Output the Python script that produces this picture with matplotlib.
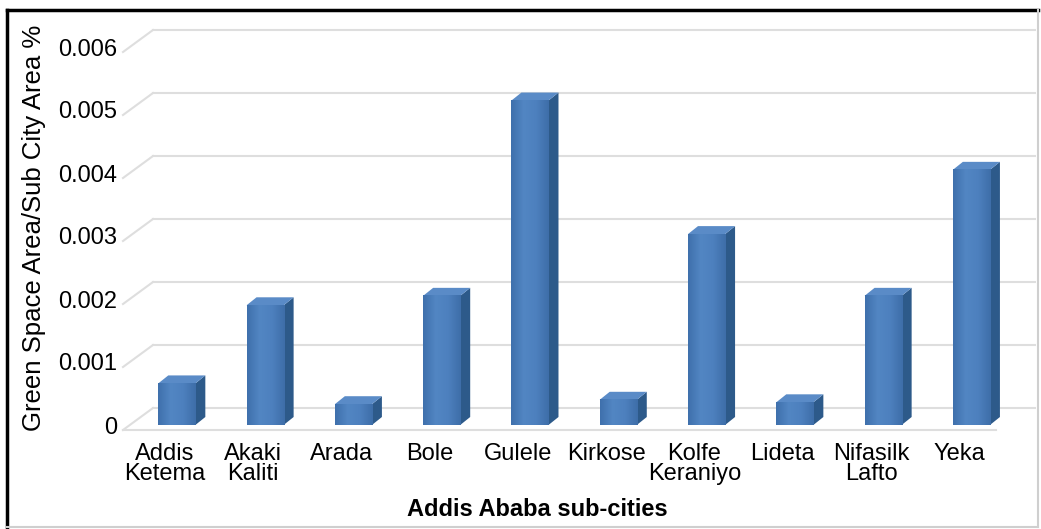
import numpy as np
import matplotlib.pyplot as plt
from matplotlib.patches import Polygon
from matplotlib.lines import Line2D
from matplotlib.colors import LinearSegmentedColormap

plt.rcParams['font.family'] = ['Liberation Sans', 'DejaVu Sans']

# Chart data
sub_cities = ["Addis\nKetema", "Akaki\nKaliti", "Arada", "Bole", "Gulele",
              "Kirkose", "Kolfe\nKeraniyo", "Lideta", "Nifasilk\nLafto", "Yeka"]
green_ratio = [0.00066, 0.0019, 0.00033, 0.00205, 0.00515,
               0.0004, 0.00303, 0.00036, 0.00205, 0.00405]
y_ticks = [0, 0.001, 0.002, 0.003, 0.004, 0.005, 0.006]
y_tick_labels = ["0", "0.001", "0.002", "0.003", "0.004", "0.005", "0.006"]

# Figure / axes layout (pixels)
W, H = 1041, 529
fig = plt.figure(figsize=(W / 100, H / 100), dpi=100)
ax_l, ax_r, ax_b, ax_t = 130, 1012, 425, 47
ax = fig.add_axes([ax_l / W, 1 - ax_b / H, (ax_r - ax_l) / W, (ax_b - ax_t) / H])
xmin, xmax, ymax = -0.53, 9.46, 0.006
ax.set_xlim(xmin, xmax)
ax.set_ylim(0, ymax)
ppx = (ax_r - ax_l) / (xmax - xmin)
ppy = (ax_b - ax_t) / ymax

# pseudo-3D offsets, in pixels converted to data units
back_dx, back_dy = 23 / ppx, 17 / ppy
front_dx, front_dy = -7 / ppx, -5 / ppy
bar_dx, bar_dy = 10 / ppx, 8 / ppy
bar_w = 0.42

grid_c = '#dedede'
front_c, side_c, top_c = '#4a7cb9', '#2d5a8a', '#5a8bc7'
face_grad = LinearSegmentedColormap.from_list(
    'face', ['#3f70ac', '#5286c3', '#4d80be', '#3e6ea9'])

# back wall gridlines + left wall slants
for yv in y_ticks:
    ax.add_line(Line2D([xmin + back_dx, xmax + back_dx], [yv + back_dy, yv + back_dy],
                       color=grid_c, lw=1.5, clip_on=False, zorder=1))
    ax.add_line(Line2D([xmin + front_dx, xmin + back_dx], [yv + front_dy, yv + back_dy],
                       color=grid_c, lw=1.5, clip_on=False, zorder=1))
# floor front edge
ax.add_line(Line2D([xmin + front_dx, xmax + front_dx - 0.1], [front_dy, front_dy],
                   color=grid_c, lw=1.5, clip_on=False, zorder=1))

# bars: front face + side + top
x = np.arange(len(sub_cities))
ax.bar(x, green_ratio, width=bar_w, color=front_c, zorder=3)
grad = np.linspace(0, 1, 64).reshape(1, -1)
for xi, h in zip(x, green_ratio):
    x0, x1 = xi - bar_w / 2, xi + bar_w / 2
    ax.imshow(grad, cmap=face_grad, extent=(x0, x1, 0, h), aspect='auto',
              interpolation='bilinear', zorder=3.5)
    side = [(x1, 0), (x1, h), (x1 + bar_dx, h + bar_dy), (x1 + bar_dx, bar_dy)]
    top = [(x0, h), (x1, h), (x1 + bar_dx, h + bar_dy), (x0 + bar_dx, h + bar_dy)]
    ax.add_patch(Polygon(side, closed=True, facecolor=side_c, edgecolor='none', zorder=3))
    ax.add_patch(Polygon(top, closed=True, facecolor=top_c, edgecolor='none', zorder=3))
ax.set_xlim(xmin, xmax)
ax.set_ylim(0, ymax)

# ticks
ax.set_yticks(y_ticks, y_tick_labels, fontsize=17)
ax.set_xticks(x - 12 / ppx, sub_cities, fontsize=17)
plt.setp(ax.get_xticklabels(), linespacing=0.9)
ax.tick_params(axis='y', length=0, pad=9)
ax.tick_params(axis='x', length=0, pad=13)
for s in ax.spines.values():
    s.set_visible(False)
ax.set_facecolor('none')

fig.text(537 / W, 1 - 510 / H, "Addis Ababa sub-cities", fontsize=17,
         fontweight='bold', ha='center', va='center')
fig.text(34 / W, 1 - 228 / H, "Green Space Area/Sub City Area %", fontsize=18.5,
         rotation=90, ha='center', va='center')

# outer frame
fig.add_artist(Line2D([7 / W, 7 / W], [1 - 527 / H, 1 - 10 / H], color='black', lw=2.5))
fig.add_artist(Line2D([7 / W, 1038 / W], [1 - 10 / H, 1 - 10 / H], color='black', lw=2.5))
fig.add_artist(Line2D([1038 / W, 1038 / W], [1 - 527 / H, 1 - 10 / H], color='#cfcfcf', lw=1.5))
fig.add_artist(Line2D([7 / W, 1038 / W], [1 - 527 / H, 1 - 527 / H], color='#cfcfcf', lw=1.5))

fig.savefig('out.png', dpi=100)
